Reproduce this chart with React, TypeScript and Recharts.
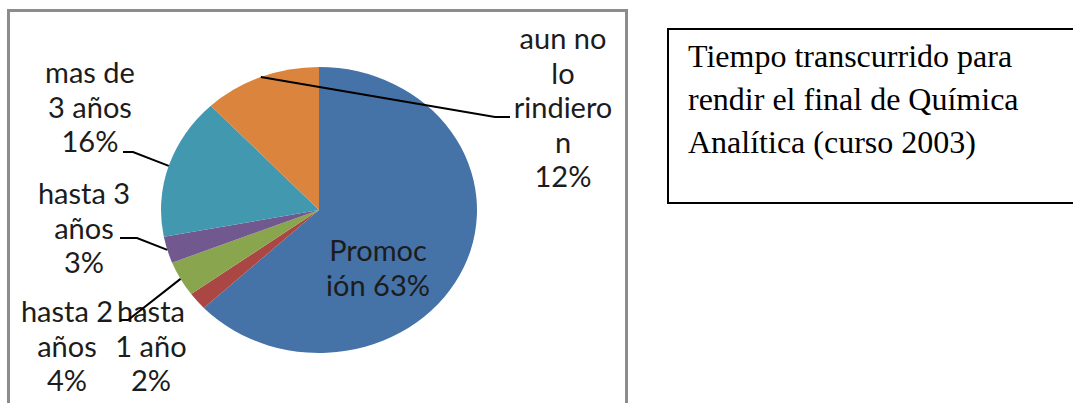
import React from 'react';
import { PieChart, Pie, Cell } from 'recharts';

// slices, clockwise from 12 o'clock
const categories = ['Promoción', 'hasta 1 año', 'hasta 2 años', 'hasta 3 años', 'mas de 3 años', 'aun no lo rindieron'];
const percents = [63, 2, 4, 3, 16, 12];
// labels as wrapped in the original chart
const labelLines = [
  ['Promoc', 'ión 63%'],
  ['hasta', '1 año', '2%'],
  ['hasta 2', 'años', '4%'],
  ['hasta 3', 'años', '3%'],
  ['mas de', '3 años', '16%'],
  ['aun no', 'lo', 'rindiero', 'n', '12%'],
];
const colors = ['#4572A7', '#AA4643', '#89A54E', '#71588F', '#4198AF', '#DB843D'];

const title = ['Tiempo transcurrido para', 'rendir el final de Química', 'Analítica (curso 2003)'];

// label placement (text center x, first baseline y, leader elbow / end)
const labelLayout: { x: number; y: number; elbow?: [number, number]; end?: [number, number] }[] = [
  { x: 378, y: 261 },
  { x: 151, y: 322 },
  { x: 67, y: 322, elbow: [128, 320], end: [120, 320] },
  { x: 84, y: 204, elbow: [137, 238], end: [120, 238] },
  { x: 90, y: 83, elbow: [133, 152], end: [123, 152] },
  { x: 563, y: 49, elbow: [495, 117], end: [510, 117] },
];

const data = categories.map((name, i) => ({ name, value: percents[i] }));

const RAD = Math.PI / 180;
const STRETCH = 158 / 143; // the pie is drawn a bit wider than tall
const LINE_H = 34.5;

const pt = (cx: number, cy: number, r: number, a: number) => [
  cx + r * STRETCH * Math.cos(-a * RAD),
  cy + r * Math.sin(-a * RAD),
];

const EllipseSector = (props: any) => {
  const { cx, cy, outerRadius, startAngle, endAngle, fill } = props;
  const [x0, y0] = pt(cx, cy, outerRadius, startAngle);
  const [x1, y1] = pt(cx, cy, outerRadius, endAngle);
  const large = Math.abs(startAngle - endAngle) > 180 ? 1 : 0;
  const sweep = startAngle > endAngle ? 1 : 0;
  const d = `M${cx},${cy} L${x0},${y0} A${outerRadius * STRETCH},${outerRadius} 0 ${large} ${sweep} ${x1},${y1} Z`;
  return <path d={d} fill={fill} stroke="none" />;
};

const renderLabel = (props: any) => {
  const { cx, cy, midAngle, outerRadius, index } = props;
  const lay = labelLayout[index];
  const lines = labelLines[index];
  let leader = null;
  if (lay.elbow && lay.end) {
    const [sx, sy] = pt(cx, cy, outerRadius, midAngle);
    leader = (
      <polyline
        points={`${sx},${sy} ${lay.elbow[0]},${lay.elbow[1]} ${lay.end[0]},${lay.end[1]}`}
        fill="none"
        stroke="#000"
        strokeWidth={2}
      />
    );
  }
  return (
    <g key={`lbl-${index}`}>
      {leader}
      <text x={lay.x} y={lay.y} textAnchor="middle" fill="#1c1c1c" fontFamily="Lato, sans-serif" fontSize={29}>
        {lines.map((l, i) => (
          <tspan key={i} x={lay.x} y={lay.y + i * LINE_H}>
            {l}
          </tspan>
        ))}
      </text>
    </g>
  );
};

const App: React.FC = () => {
  return (
    <div style={{ position: 'absolute', left: 0, top: 0, width: 1073, height: 403, overflow: 'hidden', background: '#fff' }}>
      <div
        style={{
          position: 'absolute',
          left: 7,
          top: 9,
          width: 621,
          height: 440,
          boxSizing: 'border-box',
          border: '3px solid #8c8c8c',
        }}
      />
      <div
        style={{
          position: 'absolute',
          left: 667,
          top: 28,
          width: 440,
          height: 176,
          boxSizing: 'border-box',
          border: '2px solid #000',
        }}
      />
      <div
        style={{
          position: 'absolute',
          left: 688,
          top: 35,
          fontFamily: '"Liberation Serif", "Times New Roman", serif',
          fontSize: 32,
          lineHeight: '43px',
          color: '#000',
          whiteSpace: 'nowrap',
        }}
      >
        {title.map((t, i) => (
          <div key={i}>{t}</div>
        ))}
      </div>
      <div style={{ position: 'absolute', left: 0, top: 0 }}>
        <PieChart width={1073} height={403} margin={{ top: 0, right: 0, bottom: 0, left: 0 }}>
          <Pie
            data={data}
            dataKey="value"
            nameKey="name"
            cx={319}
            cy={210}
            outerRadius={143}
            startAngle={90}
            endAngle={-270}
            stroke="none"
            inactiveShape={EllipseSector}
            activeShape={EllipseSector}
            shape={EllipseSector}
            label={renderLabel}
            labelLine={false}
            isAnimationActive={false}
          >
            {data.map((d, i) => (
              <Cell key={d.name} fill={colors[i]} />
            ))}
          </Pie>
        </PieChart>
      </div>
    </div>
  );
};

export default App;
